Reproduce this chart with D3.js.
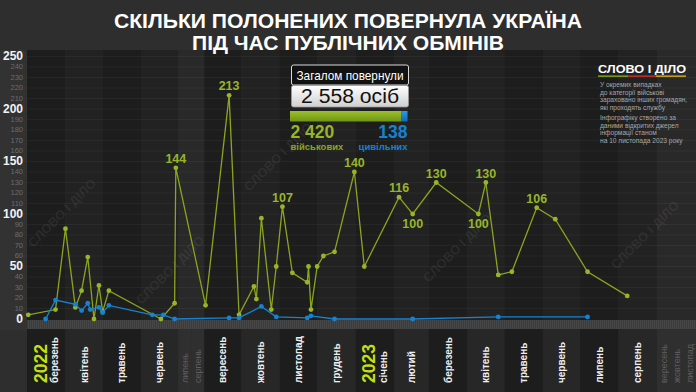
<!DOCTYPE html>
<html><head><meta charset="utf-8">
<script src="https://cdn.jsdelivr.net/npm/d3@7"></script>
<style>html,body{margin:0;padding:0;background:#2e2e2e;} svg{display:block;}</style>
</head><body><svg id="c" width="696" height="392"></svg>
<script>
// ---------- DATA ----------
const monthStarts = ["2022-03-01","2022-04-01","2022-05-01","2022-06-01","2022-07-01","2022-08-01","2022-09-01","2022-10-01","2022-11-01","2022-12-01","2023-01-01","2023-02-01","2023-03-01","2023-04-01","2023-05-01","2023-06-01","2023-07-01","2023-08-01","2023-09-01","2023-10-01","2023-11-01","2023-12-01"];
const monthNames = ["березень","квітень","травень","червень","липень","серпень","вересень","жовтень","листопад","грудень","січень","лютий","березень","квітень","травень","червень","липень","серпень","вересень","жовтень","листопад"];
const monthActive = [1,1,1,1,0,0,1,1,1,1,1,1,1,1,1,1,1,1,0,0,0];
const yearLabels = ["2022","2023"];
const yearMonthIndex = [0,10];

const militaryDates = ["2022-03-02","2022-03-24","2022-04-01","2022-04-09","2022-04-14","2022-04-19","2022-04-24","2022-04-28","2022-05-01","2022-05-06","2022-06-17","2022-06-28","2022-06-29","2022-09-02","2022-09-21","2022-09-29","2022-10-11","2022-10-13","2022-10-17","2022-10-25","2022-10-29","2022-11-03","2022-11-11","2022-11-23","2022-11-24","2022-11-26","2022-12-01","2022-12-06","2022-12-15","2022-12-31","2023-01-08","2023-02-05","2023-02-16","2023-03-07","2023-04-10","2023-04-16","2023-04-26","2023-05-07","2023-05-27","2023-06-11","2023-07-07","2023-08-08"];
const militaryValues = [4,9,86,11,27,59,0,32,7,27,0,15,144,13,213,4,31,19,96,9,50,107,44,35,50,9,50,60,64,140,50,116,100,130,100,130,42,45,106,95,45,22];
const militaryLabelPos = ["","","","","","","","","","","","","a","","a","","","","","","","a","","","","","","","","a","","a","b","a","b","a","","","a","","",""];

const civilianDates = ["2022-03-16","2022-03-24","2022-04-09","2022-04-14","2022-04-19","2022-04-21","2022-04-28","2022-05-01","2022-05-06","2022-06-10","2022-06-19","2022-06-28","2022-09-21","2022-09-29","2022-10-17","2022-10-29","2022-11-23","2022-11-26","2022-12-15","2023-02-16","2023-04-26","2023-07-07"];
const civilianValues = [0,18,14,8,15,9,11,6,13,4,4,0,1,1,12,2,1,3,0,0,2,2];

const yTicks = d3.range(0, 251, 10);
const titleLines = ["СКІЛЬКИ ПОЛОНЕНИХ ПОВЕРНУЛА УКРАЇНА","ПІД ЧАС ПУБЛІЧНИХ ОБМІНІВ"];
const totalLabel = "Загалом повернули";
const totalValue = "2 558 осіб";
const militaryTotal = 2420, civilianTotal = 138;
const militaryTotalText = "2 420", civilianTotalText = "138";
const militaryName = "військових", civilianName = "цивільних";
const logoText = "СЛОВО І ДІЛО";
const noteLines1 = ["У окремих випадках","до категорії військові","зараховано інших громадян,","які проходять службу"];
const noteLines2 = ["Інфографіку створено за","даними відкритих джерел","інформації станом","на 10 листопада 2023 року"];

// ---------- LAYOUT ----------
const W = 696, H = 392;
const plotLeft = 27, plotRight = 696, narrowW = 13;
const parse = d3.timeParse("%Y-%m-%d");
const mDates = monthStarts.map(parse);
const days = d3.range(monthNames.length).map(i => Math.round((mDates[i+1]-mDates[i])/864e5));
const activeDays = d3.sum(days.filter((d,i)=>monthActive[i]));
const nInactive = monthActive.filter(a=>!a).length;
const pxDay = (plotRight - plotLeft - nInactive*narrowW)/activeDays;
const bounds = [plotLeft];
days.forEach((d,i)=> bounds.push(bounds[i] + (monthActive[i] ? d*pxDay : narrowW)));

const x = d3.scaleTime().domain(mDates).range(bounds);
const y = d3.scaleLinear().domain([0,250]).range([319, 56.5]);

const GREEN = "#8aa51f", GREEN_DOT = "#98b52a", BLUE = "#1583d2", YEAR = "#c5df12";
const sans = "'Liberation Sans', Arial, sans-serif";
const narrow = "'Liberation Sans Narrow', 'Liberation Sans', Arial, sans-serif";

const svg = d3.select("#c");
const defs = svg.append("defs");
const pat = defs.append("pattern").attr("id","hatch").attr("width",2).attr("height",10).attr("patternUnits","userSpaceOnUse");
pat.append("rect").attr("width",2).attr("height",10).attr("fill","#3b3b3b");
pat.append("rect").attr("width",1).attr("height",10).attr("fill","#474747");
const g1 = defs.append("linearGradient").attr("id","wbox").attr("x1",0).attr("y1",0).attr("x2",0).attr("y2",1);
g1.append("stop").attr("offset","0").attr("stop-color","#ffffff");
g1.append("stop").attr("offset","1").attr("stop-color","#cfcfcf");
const g2 = defs.append("linearGradient").attr("id","gbar").attr("x1",0).attr("y1",0).attr("x2",0).attr("y2",1);
g2.append("stop").attr("offset","0").attr("stop-color","#9cc12a");
g2.append("stop").attr("offset","1").attr("stop-color","#6f9414");
const g3 = defs.append("linearGradient").attr("id","bbar").attr("x1",0).attr("y1",0).attr("x2",0).attr("y2",1);
g3.append("stop").attr("offset","0").attr("stop-color","#2b9af0");
g3.append("stop").attr("offset","1").attr("stop-color","#0f6cb4");

// background
svg.append("rect").attr("width",W).attr("height",H).attr("fill","#2e2e2e");
svg.append("rect").attr("x",0).attr("y",50).attr("width",plotLeft).attr("height",280).attr("fill","#323232");

// month bands (plot area + label area)
const bandIdx = d3.range(monthNames.length);
let act = 0;
const bandColors = bandIdx.map(i => { if(!monthActive[i]) return ["#292929","#2f2f2f"]; const c = act++ % 2 === 0 ? ["#1d1d1d","#1d1d1d"] : ["#222222","#272727"]; return c; });
svg.append("g").selectAll("rect").data(bandIdx).join("rect")
  .attr("x", i=>bounds[i]).attr("width", i=>bounds[i+1]-bounds[i])
  .attr("y",50).attr("height",270).attr("fill", i=>bandColors[i][0]);
svg.append("g").selectAll("rect").data(bandIdx).join("rect")
  .attr("x", i=>bounds[i]).attr("width", i=>bounds[i+1]-bounds[i])
  .attr("y",329).attr("height",63).attr("fill", i=>bandColors[i][1]);
svg.append("rect").attr("x",plotLeft).attr("y",320).attr("width",plotRight-plotLeft).attr("height",9).attr("fill","url(#hatch)");

// gridlines
svg.append("g").selectAll("line").data(yTicks.filter(t=>t>0)).join("line")
  .attr("x1",plotLeft).attr("x2",plotRight).attr("y1",d=>y(d)).attr("y2",d=>y(d))
  .attr("stroke","rgba(255,255,255,0.045)").attr("stroke-width",1);

// watermarks
const wm = [[62,213],[170,270],[278,157],[457,248],[645,235]];
svg.append("g").selectAll("text").data(wm).join("text")
  .attr("transform",d=>`translate(${d[0]},${d[1]}) rotate(-45)`)
  .attr("text-anchor","middle").attr("dominant-baseline","central")
  .attr("font-family",sans).attr("font-weight","bold").attr("font-size",13)
  .attr("fill","rgba(255,255,255,0.065)").text(logoText);

// y axis labels
svg.append("g").selectAll("text").data(yTicks).join("text")
  .attr("x",23).attr("y",d=>y(d)-0.5).attr("text-anchor","end").attr("dominant-baseline","central")
  .attr("font-family",sans)
  .attr("font-weight",d=>d%50===0?"bold":"normal")
  .attr("font-size",d=>d%50===0?12:7.5)
  .attr("fill",d=>d%50===0?"#f2f2f2":"#6c6c6c")
  .text(d=>d);

// month labels
svg.append("g").selectAll("text").data(bandIdx).join("text")
  .attr("transform", i => {
    const isYear = yearMonthIndex.includes(i);
    const cx = isYear ? bounds[i] + (bounds[i+1]-bounds[i])*0.72 : (bounds[i]+bounds[i+1])/2;
    return `translate(${cx + (monthActive[i]?3.5:3)},383) rotate(-90)`;
  })
  .attr("font-family", i=>monthActive[i]?sans:narrow)
  .attr("font-weight", i=>monthActive[i]?"bold":"normal")
  .attr("font-size", i=>monthActive[i]?10:9)
  .attr("fill", i=>monthActive[i]?"#f0f0f0":"#5e5e5e")
  .text(i=>monthNames[i]);
svg.append("g").selectAll("text").data(yearLabels).join("text")
  .attr("transform",(d,k)=>{ const i = yearMonthIndex[k]; const cx = bounds[i] + (bounds[i+1]-bounds[i])*0.36; return `translate(${cx+6},383) rotate(-90)`; })
  .attr("font-family",sans).attr("font-weight","bold").attr("font-size",17.5)
  .attr("fill",YEAR).text(d=>d);

// series
const mil = militaryDates.map((d,i)=>({date:parse(d), v:militaryValues[i], lab:militaryLabelPos[i]}));
const civ = civilianDates.map((d,i)=>({date:parse(d), v:civilianValues[i]}));
const line = d3.line().x(d=>x(d.date)).y(d=>y(d.v));
svg.append("path").datum(mil).attr("d",line).attr("fill","none").attr("stroke",GREEN).attr("stroke-width",1.3);
svg.append("g").selectAll("circle").data(mil).join("circle")
  .attr("cx",d=>x(d.date)).attr("cy",d=>y(d.v)).attr("r",2.4).attr("fill",GREEN_DOT);
svg.append("path").datum(civ).attr("d",line).attr("fill","none").attr("stroke",BLUE).attr("stroke-width",1.3);
svg.append("g").selectAll("circle").data(civ).join("circle")
  .attr("cx",d=>x(d.date)).attr("cy",d=>y(d.v)).attr("r",2.4).attr("fill",BLUE);
svg.append("g").selectAll("text").data(mil.filter(d=>d.lab)).join("text")
  .attr("x",d=>x(d.date)).attr("y",d=>y(d.v)+(d.lab==="a"?-5:14))
  .attr("text-anchor","middle").attr("font-family",sans).attr("font-weight","bold").attr("font-size",12.5)
  .attr("fill",GREEN_DOT).text(d=>d.v);

// title
svg.append("g").selectAll("text").data(titleLines).join("text")
  .attr("x",348).attr("y",(d,i)=>27.5+i*22.5)
  .attr("text-anchor","middle").attr("font-family",narrow).attr("font-weight","bold").attr("font-size",20)
  .attr("fill","#ffffff").attr("textLength",(d,i)=>i===0?468:312).attr("lengthAdjust","spacingAndGlyphs")
  .text(d=>d);

// legend box
const lg = svg.append("g");
lg.append("rect").attr("x",291.5).attr("y",65).attr("width",117).attr("height",20).attr("rx",2).attr("fill","#121212").attr("stroke","#d8d8d8").attr("stroke-width",1);
lg.append("text").attr("x",350).attr("y",79.5).attr("text-anchor","middle").attr("font-family",sans).attr("font-size",13)
  .attr("fill","#ffffff").attr("textLength",107).attr("lengthAdjust","spacingAndGlyphs").text(totalLabel);
lg.append("rect").attr("x",291.5).attr("y",85.5).attr("width",117).attr("height",21.5).attr("rx",2).attr("fill","url(#wbox)").attr("stroke","#9a9a9a").attr("stroke-width",0.8);
lg.append("text").attr("x",350).attr("y",103).attr("text-anchor","middle").attr("font-family",sans).attr("font-size",19.5)
  .attr("fill","#111").attr("textLength",98).attr("lengthAdjust","spacingAndGlyphs").text(totalValue);
const barX = d3.scaleLinear().domain([0, militaryTotal+civilianTotal]).range([290, 407.5]);
lg.append("rect").attr("x",barX(0)).attr("y",111).attr("width",barX(militaryTotal)-barX(0)).attr("height",10.5).attr("fill","url(#gbar)");
lg.append("rect").attr("x",barX(militaryTotal)).attr("y",111).attr("width",barX(militaryTotal+civilianTotal)-barX(militaryTotal)).attr("height",10.5).attr("fill","url(#bbar)");
lg.append("text").attr("x",290.5).attr("y",138).attr("font-family",sans).attr("font-weight","bold").attr("font-size",17.5).attr("fill",GREEN_DOT).text(militaryTotalText);
lg.append("text").attr("x",290.5).attr("y",149.5).attr("font-family",sans).attr("font-weight","bold").attr("font-size",9.5).attr("fill",GREEN).text(militaryName);
lg.append("text").attr("x",407.5).attr("y",138).attr("text-anchor","end").attr("font-family",sans).attr("font-weight","bold").attr("font-size",17.5).attr("fill",BLUE).text(civilianTotalText);
lg.append("text").attr("x",407.5).attr("y",149.5).attr("text-anchor","end").attr("font-family",sans).attr("font-weight","bold").attr("font-size",9.5).attr("fill",BLUE).text(civilianName);

// logo + notes
const lo = svg.append("g");
lo.append("text").attr("x",598).attr("y",73).attr("font-family",sans).attr("font-weight","bold").attr("font-size",11.5)
  .attr("fill","#ffffff").attr("textLength",88).attr("lengthAdjust","spacingAndGlyphs").text(logoText);
lo.append("rect").attr("x",598).attr("y",75.5).attr("width",30).attr("height",1.3).attr("fill","#8bb51c");
lo.append("rect").attr("x",628).attr("y",75.5).attr("width",28).attr("height",1.3).attr("fill","#d9332b");
lo.append("rect").attr("x",656).attr("y",75.5).attr("width",30).attr("height",1.3).attr("fill","#e5b81a");
lo.append("g").selectAll("text").data(noteLines1).join("text")
  .attr("x",600).attr("y",(d,i)=>87+i*7.5).attr("font-family",sans).attr("font-size",6.6).attr("fill","#a8a8a8").text(d=>d);
lo.append("g").selectAll("text").data(noteLines2).join("text")
  .attr("x",600).attr("y",(d,i)=>120+i*7.5).attr("font-family",sans).attr("font-size",6.6).attr("fill","#a8a8a8").text(d=>d);
</script></body></html>
